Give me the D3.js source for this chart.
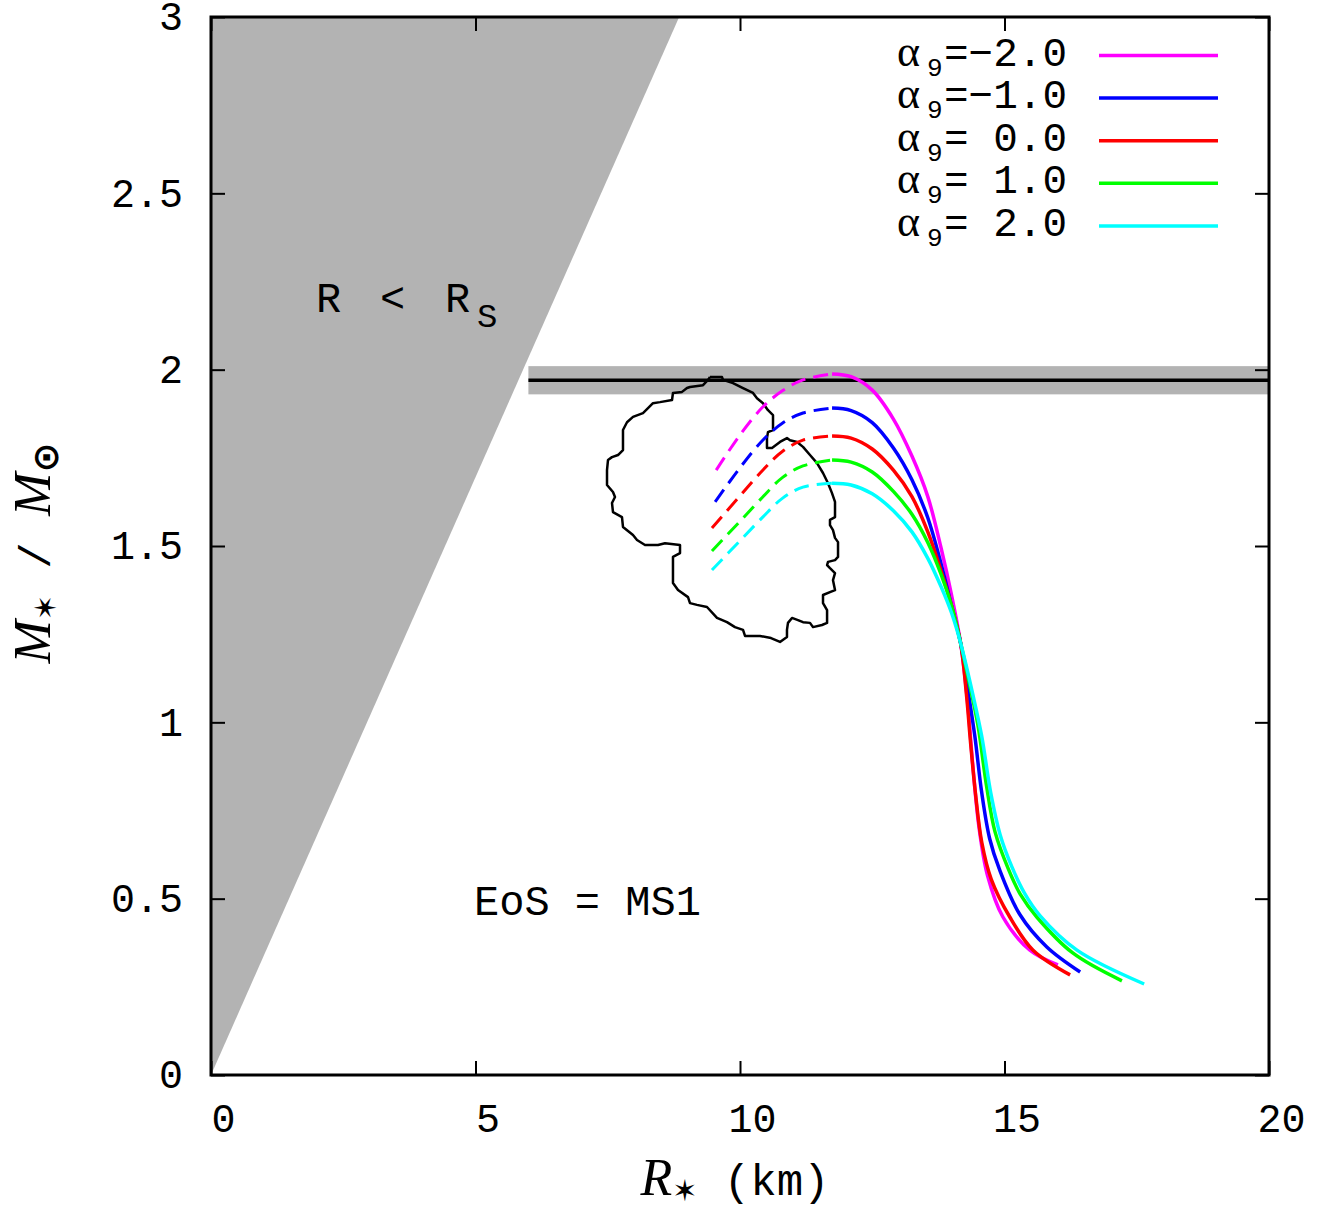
<!DOCTYPE html>
<html>
<head>
<meta charset="utf-8">
<script src="https://cdn.jsdelivr.net/npm/d3@7"></script>
<style>
  body { margin: 0; background: #fff; }
  svg { display: block; }
</style>
</head>
<body>
<script>
// ticks
var xTicks = [0, 5, 10, 15, 20];
var yTicks = [0, 0.5, 1, 1.5, 2, 2.5, 3];

// legend labels (alpha_9 values) and colours
var alphaLabels = ["=\u22122.0", "=\u22121.0", "= 0.0", "= 1.0", "= 2.0"];
var colors = ["#ff00ff", "#0000ff", "#ff0000", "#00ff00", "#00ffff"];

// unstable branch (dashed), [R km, M/Msun]
var dashM2 = [[9.55,1.715],[10.00,1.815],[10.43,1.894],[10.80,1.940],[11.19,1.971],[11.74,1.988]];
var dashM1 = [[9.53,1.625],[10.00,1.722],[10.43,1.800],[10.80,1.848],[11.19,1.877],[11.74,1.891]];
var dash0  = [[9.47,1.551],[10.00,1.642],[10.43,1.715],[10.80,1.768],[11.19,1.800],[11.74,1.812]];
var dashP1 = [[9.47,1.486],[10.00,1.570],[10.43,1.639],[10.80,1.694],[11.19,1.727],[11.74,1.744]];
var dashP2 = [[9.47,1.432],[10.00,1.515],[10.43,1.582],[10.80,1.635],[11.19,1.667],[11.74,1.678]];

// stable branch (solid)
var solidM2 = [[11.74,1.988],[12.10,1.980],[12.50,1.942],[12.90,1.860],[13.25,1.755],[13.55,1.640],[13.80,1.495],[14.00,1.360],[14.17,1.225],[14.30,1.060],[14.40,0.880],[14.52,0.700],[14.68,0.565],[14.97,0.448],[15.48,0.354],[16.01,0.312]];
var solidM1 = [[11.74,1.891],[12.10,1.884],[12.50,1.850],[12.90,1.778],[13.25,1.688],[13.55,1.580],[13.80,1.450],[14.00,1.330],[14.17,1.225],[14.30,1.100],[14.44,0.960],[14.57,0.800],[14.72,0.670],[14.90,0.585],[15.29,0.455],[15.80,0.363],[16.43,0.292]];
var solid0  = [[11.74,1.812],[12.10,1.806],[12.50,1.775],[12.90,1.715],[13.25,1.640],[13.55,1.540],[13.80,1.430],[14.00,1.330],[14.17,1.225],[14.28,1.080],[14.36,0.940],[14.45,0.800],[14.57,0.660],[14.75,0.555],[15.10,0.448],[15.54,0.354],[16.24,0.284]];
var solidP1 = [[11.74,1.744],[12.10,1.738],[12.50,1.710],[12.90,1.655],[13.25,1.590],[13.55,1.510],[13.80,1.420],[14.00,1.330],[14.17,1.225],[14.35,1.100],[14.50,0.990],[14.66,0.820],[14.82,0.690],[15.07,0.585],[15.30,0.512],[15.61,0.448],[16.29,0.346],[17.22,0.267]];
var solidP2 = [[11.74,1.678],[12.10,1.673],[12.50,1.648],[12.90,1.600],[13.25,1.540],[13.55,1.465],[13.80,1.385],[14.00,1.310],[14.17,1.225],[14.40,1.080],[14.57,0.960],[14.74,0.800],[14.92,0.680],[15.14,0.590],[15.38,0.515],[15.67,0.452],[16.37,0.354],[17.64,0.258]];

// observational contour
var contour = [[9.433,1.979],[9.660,1.979],[9.679,1.971],[9.868,1.962],[10.057,1.948],[10.246,1.934],[10.321,1.919],[10.435,1.905],[10.529,1.885],[10.624,1.871],[10.624,1.829],[10.529,1.823],[10.510,1.806],[10.510,1.778],[10.605,1.778],[10.756,1.795],[10.888,1.806],[10.945,1.800],[11.078,1.795],[11.191,1.781],[11.323,1.758],[11.456,1.735],[11.569,1.707],[11.664,1.678],[11.739,1.650],[11.796,1.625],[11.796,1.582],[11.701,1.574],[11.701,1.559],[11.758,1.545],[11.796,1.523],[11.853,1.511],[11.853,1.469],[11.796,1.460],[11.664,1.455],[11.646,1.446],[11.701,1.437],[11.796,1.423],[11.758,1.403],[11.796,1.375],[11.701,1.369],[11.569,1.361],[11.569,1.338],[11.646,1.318],[11.646,1.282],[11.550,1.276],[11.380,1.270],[11.323,1.282],[11.191,1.284],[11.096,1.290],[10.983,1.296],[10.907,1.282],[10.888,1.262],[10.888,1.242],[10.756,1.228],[10.586,1.239],[10.378,1.245],[10.095,1.245],[10.057,1.262],[9.905,1.270],[9.754,1.284],[9.565,1.296],[9.376,1.327],[9.187,1.333],[9.055,1.338],[9.017,1.355],[8.828,1.375],[8.733,1.395],[8.733,1.452],[8.733,1.469],[8.866,1.480],[8.866,1.503],[8.582,1.508],[8.450,1.503],[8.204,1.503],[8.053,1.517],[7.977,1.531],[7.788,1.554],[7.769,1.582],[7.599,1.596],[7.580,1.622],[7.637,1.639],[7.599,1.653],[7.486,1.673],[7.486,1.715],[7.505,1.744],[7.580,1.752],[7.694,1.758],[7.788,1.772],[7.788,1.829],[7.864,1.851],[7.977,1.866],[8.166,1.877],[8.261,1.891],[8.355,1.905],[8.488,1.908],[8.715,1.914],[8.733,1.934],[8.904,1.937],[8.998,1.948],[9.055,1.951],[9.301,1.956],[9.395,1.971],[9.433,1.979]];

// R < R_S region (R_S = 2.95 km per solar mass) and 1.97 +- 0.04 measurement
var schwarz = [[0, 0], [8.85, 3], [0, 3]];
var massObs = [1.97, 0.04];
var massObsRange = [6, 20];

var dashed = [dashM2, dashM1, dash0, dashP1, dashP2];
var solid = [solidM2, solidM1, solid0, solidP1, solidP2];

var mono = "'Courier New', 'Liberation Mono', monospace";
var serif = "'Liberation Serif', 'DejaVu Serif', serif";
var sym = "'DejaVu Sans', sans-serif";

var svg = d3.select("body").append("svg").attr("width", 1334).attr("height", 1209);

var x = d3.scaleLinear().domain([0, 20]).range([211, 1269]);
var y = d3.scaleLinear().domain([0, 3]).range([1075, 17]);

svg.append("clipPath").attr("id", "plot")
   .append("rect").attr("x", 211).attr("y", 17).attr("width", 1058).attr("height", 1058);

var plot = svg.append("g").attr("clip-path", "url(#plot)");

// grey triangle
plot.append("polygon")
    .attr("points", schwarz.map(function(d) { return x(d[0]) + "," + y(d[1]); }).join(" "))
    .attr("fill", "#b3b3b3");

// measurement band + line
plot.append("rect")
    .attr("x", x(massObsRange[0])).attr("width", x(massObsRange[1]) - x(massObsRange[0]))
    .attr("y", y(massObs[0] + massObs[1])).attr("height", y(massObs[0] - massObs[1]) - y(massObs[0] + massObs[1]))
    .attr("fill", "#b3b3b3");
plot.append("line")
    .attr("x1", x(massObsRange[0])).attr("x2", x(massObsRange[1]))
    .attr("y1", y(massObs[0])).attr("y2", y(massObs[0]))
    .attr("stroke", "#000").attr("stroke-width", 3.5);

var line = d3.line().x(function(d) { return x(d[0]); }).y(function(d) { return y(d[1]); });
var smooth = d3.line().x(function(d) { return x(d[0]); }).y(function(d) { return y(d[1]); })
               .curve(d3.curveCatmullRom.alpha(0.5));

// contour
plot.append("path").attr("d", line(contour))
    .attr("fill", "none").attr("stroke", "#000").attr("stroke-width", 2.5).attr("stroke-linejoin", "round");

// curves
dashed.forEach(function(s, i) {
  plot.append("path").attr("d", smooth(s))
      .attr("fill", "none").attr("stroke", colors[i]).attr("stroke-width", 3)
      .attr("stroke-dasharray", "15,8");
});
solid.forEach(function(s, i) {
  plot.append("path").attr("d", smooth(s))
      .attr("fill", "none").attr("stroke", colors[i]).attr("stroke-width", 3.5);
});

// axes, ticks inward on all four sides
function styleAxis(g) {
  g.select(".domain").remove();
  g.selectAll(".tick line").attr("stroke", "#000").attr("stroke-width", 2);
  g.selectAll("text").attr("font-family", mono).attr("font-size", 40).attr("fill", "#000");
}
svg.append("g").attr("transform", "translate(0,1075)")
   .call(d3.axisBottom(x).tickValues(xTicks).tickSizeInner(-14).tickSizeOuter(0).tickPadding(29)
         .tickFormat(d3.format("d")))
   .call(styleAxis)
   .selectAll("text").attr("dx", 12);
svg.append("g").attr("transform", "translate(0,17)")
   .call(d3.axisTop(x).tickValues(xTicks).tickSizeInner(-14).tickSizeOuter(0).tickFormat(""))
   .call(styleAxis);
svg.append("g").attr("transform", "translate(211,0)")
   .call(d3.axisLeft(y).tickValues(yTicks).tickSizeInner(-14).tickSizeOuter(0).tickPadding(28)
         .tickFormat(function(d) { return String(d); }))
   .call(styleAxis);
svg.append("g").attr("transform", "translate(1269,0)")
   .call(d3.axisRight(y).tickValues(yTicks).tickSizeInner(-14).tickSizeOuter(0).tickFormat(""))
   .call(styleAxis);

// frame
svg.append("rect").attr("x", 211).attr("y", 17).attr("width", 1058).attr("height", 1058)
   .attr("fill", "none").attr("stroke", "#000").attr("stroke-width", 3);

// legend
var legendY = [55.5, 98, 140.7, 183.3, 226];
alphaLabels.forEach(function(lab, i) {
  var base = legendY[i] + 10;
  svg.append("text").attr("x", 897).attr("y", base).attr("font-family", serif).attr("font-size", 44)
     .attr("fill", "#000").text("α");
  svg.append("text").attr("x", 927).attr("y", base + 10).attr("font-family", mono).attr("font-size", 26)
     .attr("fill", "#000").text("9");
  svg.append("text").attr("x", 944).attr("y", base).attr("font-family", mono).attr("font-size", 41)
     .attr("fill", "#000").style("white-space", "pre").text(lab);
  svg.append("line").attr("x1", 1099).attr("x2", 1218).attr("y1", legendY[i]).attr("y2", legendY[i])
     .attr("stroke", colors[i]).attr("stroke-width", 3.5);
});

// R < R_S
var rs = svg.append("text").attr("y", 312).attr("font-family", mono).attr("font-size", 42).attr("fill", "#000");
rs.append("tspan").attr("x", 316).text("R");
rs.append("tspan").attr("x", 380).text("<");
rs.append("tspan").attr("x", 445).text("R");
rs.append("tspan").attr("x", 477).attr("dy", 15).attr("font-size", 34).text("S");

// EoS label
svg.append("text").attr("x", 474).attr("y", 915).attr("font-family", mono).attr("font-size", 42)
   .attr("fill", "#000").style("white-space", "pre").text("EoS = MS1");

// x label
var xl = svg.append("text").attr("x", 735).attr("y", 1195).attr("text-anchor", "middle").attr("fill", "#000");
xl.append("tspan").attr("font-family", serif).attr("font-style", "italic").attr("font-size", 52).text("R");
xl.append("tspan").attr("font-family", sym).attr("font-size", 30).attr("dy", 6).text("\u2736");
xl.append("tspan").attr("font-family", mono).attr("font-size", 44).attr("dy", -6)
  .style("white-space", "pre").text(" (km)");

// y label
var yl = svg.append("text").attr("transform", "translate(50,553) rotate(-90)")
   .attr("text-anchor", "middle").attr("fill", "#000");
yl.append("tspan").attr("font-family", serif).attr("font-style", "italic").attr("font-size", 52).text("M");
yl.append("tspan").attr("font-family", sym).attr("font-size", 30).attr("dy", 6).text("\u2736");
yl.append("tspan").attr("font-family", mono).attr("font-size", 44).attr("dy", -6)
  .style("white-space", "pre").text(" / ");
yl.append("tspan").attr("font-family", serif).attr("font-style", "italic").attr("font-size", 52).text("M");
yl.append("tspan").attr("font-family", sym).attr("font-size", 36).attr("font-weight", "bold").attr("dy", 8).text("⊙");
</script>
</body>
</html>
